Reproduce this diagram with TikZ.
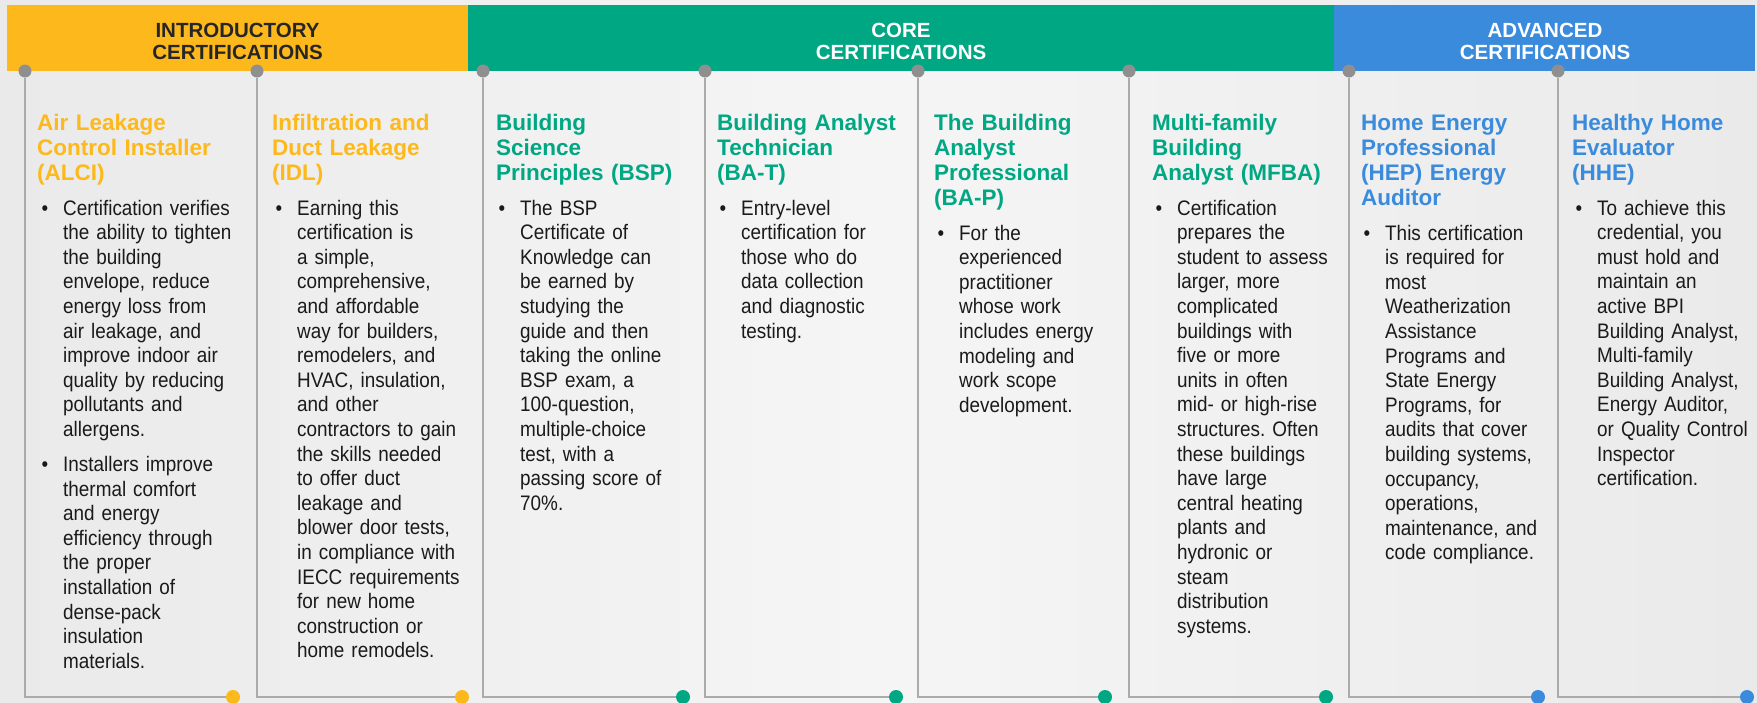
\documentclass[tikz,border=0pt]{standalone}
\usepackage{fontspec}
\setmainfont{Liberation Sans}
\newfontfamily\bodyfont{Liberation Sans}[FakeStretch=0.9]
\usepackage{xcolor}
\usetikzlibrary{shapes.geometric,arrows,calc,positioning}

\definecolor{introyellow}{HTML}{FDB91C}
\definecolor{coregreen}{HTML}{00A783}
\definecolor{advblue}{HTML}{3A8BDC}
\definecolor{linegray}{HTML}{ABABAB}
\definecolor{dotgray}{HTML}{8F8F90}
\definecolor{bgmid}{HTML}{F5F5F5}
\definecolor{bgedge}{HTML}{EAEAEA}
\definecolor{bodytext}{HTML}{1A1A1A}
\newcommand{\certbullet}{\leavevmode\llap{\textbullet\hspace{15pt}}}

\begin{document}
\begin{tikzpicture}[x=1pt,y=-1pt,
  bandtext/.style={align=center, inner sep=0pt, font=\fontsize{20.5}{22}\selectfont\bfseries},
  certtitle/.style={anchor=base west, inner sep=0pt, text width=215pt, align=left, font=\fontsize{22.5}{25}\selectfont\bfseries},
  certbody/.style={anchor=base west, inner sep=0pt, text width=200pt, align=left, text=bodytext, font=\bodyfont\fontsize{21}{24.6}\selectfont\frenchspacing},
  topdot/.style={shape=circle, fill=dotgray, inner sep=0pt, minimum size=13pt},
  enddot/.style={shape=circle, inner sep=0pt, minimum size=14pt},
  colline/.style={draw=linegray, line width=1.5pt}]
\useasboundingbox (0,0) rectangle (1757,702);
\shade[left color=bgedge, right color=bgedge, middle color=bgmid] (0,0) rectangle (1757,702);

% Header bands
\fill[introyellow] (7,5) rectangle (468,71);
\fill[coregreen] (468,5) rectangle (1334,71);
\fill[advblue] (1334,5) rectangle (1755,71);
\node[bandtext, text=black!85] (hintro) at (237.5,41) {INTRODUCTORY\\CERTIFICATIONS};
\node[bandtext, text=white] (hcore) at (901,41) {CORE\\CERTIFICATIONS};
\node[bandtext, text=white] (hadv) at (1545,41) {ADVANCED\\CERTIFICATIONS};

% Dots
\node[topdot] (t1) at (25,71) {};
\node[topdot] (t2) at (257,71) {};
\node[topdot] (t3) at (483,71) {};
\node[topdot] (t4) at (705,71) {};
\node[topdot] (t5) at (918,71) {};
\node[topdot] (t6) at (1129,71) {};
\node[topdot] (t7) at (1349,71) {};
\node[topdot] (t8) at (1558,71) {};
\node[enddot, fill=introyellow] (b1) at (233,697) {};
\node[enddot, fill=introyellow] (b2) at (462,697) {};
\node[enddot, fill=coregreen] (b3) at (683,697) {};
\node[enddot, fill=coregreen] (b4) at (896,697) {};
\node[enddot, fill=coregreen] (b5) at (1105,697) {};
\node[enddot, fill=coregreen] (b6) at (1326,697) {};
\node[enddot, fill=advblue] (b7) at (1538,697) {};
\node[enddot, fill=advblue] (b8) at (1747,697) {};

% Column lines
\draw[colline] (t1) |- (b1);
\draw[colline] (t2) |- (b2);
\draw[colline] (t3) |- (b3);
\draw[colline] (t4) |- (b4);
\draw[colline] (t5) |- (b5);
\draw[colline] (t6) |- (b6);
\draw[colline] (t7) |- (b7);
\draw[colline] (t8) |- (b8);

% Titles
\node[certtitle, text=introyellow] (alci) at (37,130) {Air Leakage\\Control Installer\\(ALCI)};
\node[certtitle, text=introyellow] (idl) at (272,130) {Infiltration and\\Duct Leakage\\(IDL)};
\node[certtitle, text=coregreen] (bsp) at (496,130) {Building\\Science\\Principles (BSP)};
\node[certtitle, text=coregreen] (bat) at (717,130) {Building Analyst\\Technician\\(BA-T)};
\node[certtitle, text=coregreen] (bap) at (934,130) {The Building\\Analyst\\Professional\\(BA-P)};
\node[certtitle, text=coregreen] (mfba) at (1152,130) {Multi-family\\Building\\Analyst (MFBA)};
\node[certtitle, text=advblue] (hep) at (1361,130) {Home Energy\\Professional\\(HEP) Energy\\Auditor};
\node[certtitle, text=advblue] (hhe) at (1572,130) {Healthy Home\\Evaluator\\(HHE)};

% Bullet texts
\node[certbody] (alcitext) at (63,215) {\certbullet Certification verifies\\the ability to tighten\\the building\\envelope, reduce\\energy loss from\\air leakage, and\\improve indoor air\\quality by reducing\\pollutants and\\allergens.\\[10.4pt]\certbullet Installers improve\\thermal comfort\\and energy\\efficiency through\\the proper\\installation of\\dense-pack\\insulation\\materials.};
\node[certbody] (idltext) at (297,215) {\certbullet Earning this\\certification is\\a simple,\\comprehensive,\\and affordable\\way for builders,\\remodelers, and\\HVAC, insulation,\\and other\\contractors to gain\\the skills needed\\to offer duct\\leakage and\\blower door tests,\\in compliance with\\IECC requirements\\for new home\\construction or\\home remodels.};
\node[certbody] (bsptext) at (520,215) {\certbullet The BSP\\Certificate of\\Knowledge can\\be earned by\\studying the\\guide and then\\taking the online\\BSP exam, a\\100-question,\\multiple-choice\\test, with a\\passing score of\\70\%.};
\node[certbody] (battext) at (741,215) {\certbullet Entry-level\\certification for\\those who do\\data collection\\and diagnostic\\testing.};
\node[certbody] (baptext) at (959,240) {\certbullet For the\\experienced\\practitioner\\whose work\\includes energy\\modeling and\\work scope\\development.};
\node[certbody] (mfbatext) at (1177,215) {\certbullet Certification\\prepares the\\student to assess\\larger, more\\complicated\\buildings with\\five or more\\units in often\\mid- or high-rise\\structures. Often\\these buildings\\have large\\central heating\\plants and\\hydronic or\\steam\\distribution\\systems.};
\node[certbody] (heptext) at (1385,240) {\certbullet This certification\\is required for\\most\\Weatherization\\Assistance\\Programs and\\State Energy\\Programs, for\\audits that cover\\building systems,\\occupancy,\\operations,\\maintenance, and\\code compliance.};
\node[certbody] (hhetext) at (1597,215) {\certbullet To achieve this\\credential, you\\must hold and\\maintain an\\active BPI\\Building Analyst,\\Multi-family\\Building Analyst,\\Energy Auditor,\\or Quality Control\\Inspector\\certification.};
\end{tikzpicture}
\end{document}
